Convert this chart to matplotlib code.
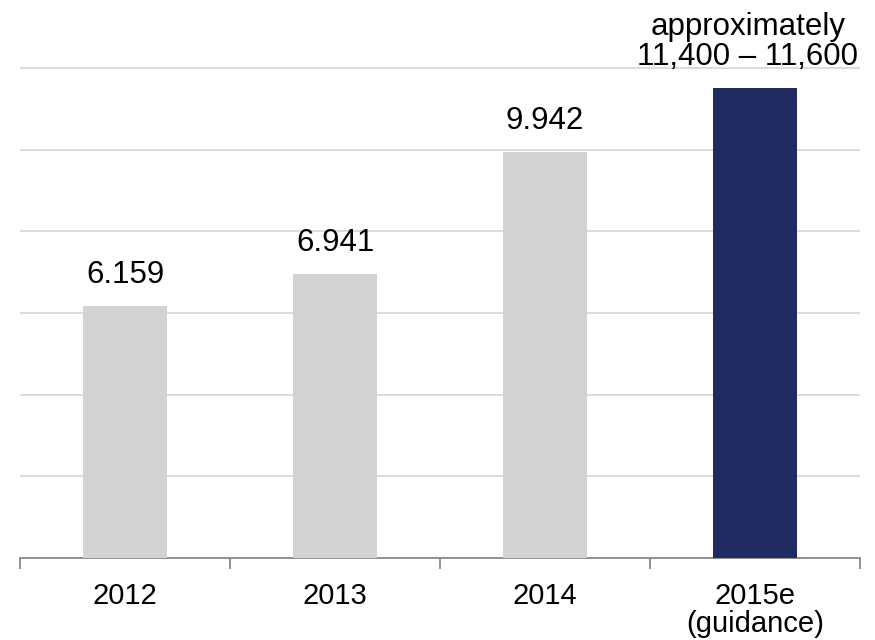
import matplotlib.pyplot as plt
import numpy as np

plt.rcParams['font.family'] = ['Liberation Sans', 'DejaVu Sans']

years = ['2012', '2013', '2014', '2015e\n(guidance)']
values = [6159, 6941, 9942, 11500]
labels = ['6.159', '6.941', '9.942', 'approximately\n11,400 \u2013 11,600']
colors = ['#d3d3d3', '#d3d3d3', '#d3d3d3', '#1f2a60']

fig = plt.figure(figsize=(8.75, 6.4), dpi=100)
# axes in pixel coords: left 20, right 860, bottom 558 (from top), top at figure top
ax = fig.add_axes([20/875, (640-558)/640, 840/875, 558/640])

x = np.arange(len(years))
ax.bar(x, values, width=0.4, color=colors, zorder=3)

for i, (xi, v, lab) in enumerate(zip(x, values, labels)):
    # guidance label sits a bit left so it stays inside the figure
    dx = -0.035 if i == len(x) - 1 else 0
    ax.text(xi + dx, v + 400, lab, ha='center', va='bottom', fontsize=22.5,
            linespacing=1.0, zorder=4)

ax.set_xlim(-0.5, len(years) - 0.5)
ax.set_ylim(0, 13660)
ax.set_yticks(np.arange(2000, 12001, 2000))
ax.yaxis.grid(True, color='#d9d9d9', linewidth=1.3, zorder=0)
ax.tick_params(axis='y', left=False, labelleft=False)

ax.set_xticks(x)
ax.set_xticklabels(years, fontsize=21, linespacing=1.0)
ax.tick_params(axis='x', length=0, pad=17)
ax.set_xticks(np.arange(-0.5, len(years)), minor=True)
ax.tick_params(axis='x', which='minor', length=8, width=1.3, color='#888888')

for s in ['top', 'right', 'left']:
    ax.spines[s].set_visible(False)
ax.spines['bottom'].set_color('#888888')
ax.spines['bottom'].set_linewidth(1.3)

fig.savefig('out.png', dpi=100)
